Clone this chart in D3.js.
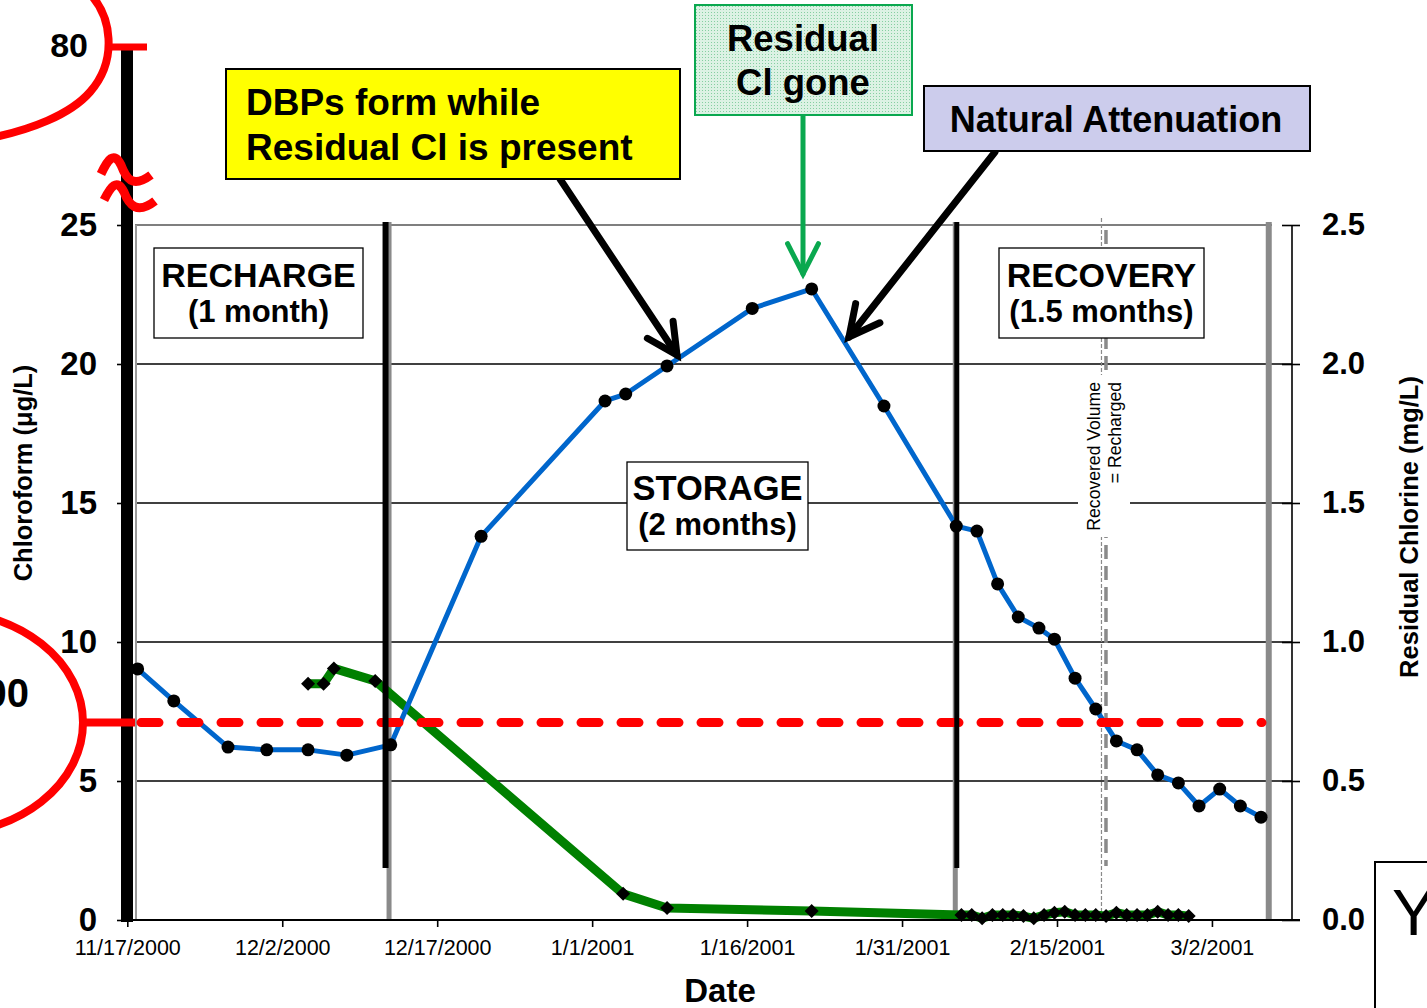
<!DOCTYPE html>
<html><head><meta charset="utf-8">
<script src="https://cdn.jsdelivr.net/npm/d3@7"></script>
<style>
html,body{margin:0;padding:0;background:#fff;overflow:hidden}
svg{display:block;font-family:"Liberation Sans",Arial,Helvetica,sans-serif}
</style></head><body>
<svg id="chart" width="1427" height="1008"></svg>
<script>
// ---------------- data ----------------
const xTickLabels = ["11/17/2000","12/2/2000","12/17/2000","1/1/2001","1/16/2001","1/31/2001","2/15/2001","3/2/2001"];
const leftTicks = [0, 5, 10, 15, 20, 25];
const rightTicks = [0.0, 0.5, 1.0, 1.5, 2.0, 2.5];
const breakLabel = "80";

// Chloroform (µg/L), left axis
const chloroformDates = [
  "2000-11-18 00","2000-11-21 12","2000-11-26 18","2000-11-30 12","2000-12-04 12","2000-12-08 06","2000-12-12 12",
  "2000-12-21 06","2001-01-02 06","2001-01-04 06","2001-01-08 06","2001-01-16 12","2001-01-22 06","2001-01-29 06",
  "2001-02-05 06","2001-02-07 06","2001-02-09 06","2001-02-11 06","2001-02-13 06","2001-02-14 18","2001-02-16 18",
  "2001-02-18 18","2001-02-20 18","2001-02-22 18","2001-02-24 18","2001-02-26 18","2001-02-28 18","2001-03-02 18",
  "2001-03-04 18","2001-03-06 18"];
const chloroformValues = [
  9.03, 7.88, 6.22, 6.12, 6.12, 5.93, 6.30,
  13.80, 18.67, 18.92, 19.93, 22.00, 22.70, 18.49,
  14.17, 13.99, 12.09, 10.90, 10.50, 10.10, 8.70,
  7.59, 6.44, 6.12, 5.22, 4.93, 4.10, 4.71,
  4.10, 3.70];

// Residual chlorine (mg/L), right axis
const chlorineDates = [
  "2000-12-04 12","2000-12-06 00","2000-12-07 00","2000-12-11 00","2001-01-04 00","2001-01-08 06","2001-01-22 06",
  "2001-02-05 18","2001-02-06 18","2001-02-07 18","2001-02-08 18","2001-02-09 18","2001-02-10 18","2001-02-11 18",
  "2001-02-12 18","2001-02-13 18","2001-02-14 18","2001-02-15 18","2001-02-16 18","2001-02-17 18","2001-02-18 18",
  "2001-02-19 18","2001-02-20 18","2001-02-21 18","2001-02-22 18","2001-02-23 18","2001-02-24 18","2001-02-25 18",
  "2001-02-26 18","2001-02-27 18"];
const chlorineValues = [
  0.85, 0.85, 0.905, 0.86, 0.094, 0.043, 0.032,
  0.018, 0.018, 0.006, 0.018, 0.018, 0.018, 0.014,
  0.006, 0.018, 0.026, 0.030, 0.018, 0.018, 0.018,
  0.014, 0.026, 0.018, 0.018, 0.018, 0.030, 0.018,
  0.018, 0.014];

const mclValue = 7.1;                     // red dashed reference line
const phaseDates = ["2000-12-12 00", "2001-02-05 06", "2001-03-07 12"];
const recoveredDate = "2001-02-19 12";
const phaseLabels = [["RECHARGE","(1 month)"],["STORAGE","(2 months)"],["RECOVERY","(1.5 months)"]];
const recoveredLabel = ["Recovered Volume", "= Recharged"];

// ---------------- scales ----------------
const parseT = d3.utcParse("%Y-%m-%d %H");
const parseD = d3.utcParse("%m/%d/%Y");
const x = d3.scaleUtc().domain([parseD("11/17/2000"), parseT("2001-03-09 18")]).range([127.3, 1292]);
const y = d3.scaleLinear().domain([0, 25]).range([920, 225]);
const y2 = d3.scaleLinear().domain([0, 2.5]).range([920, 225]);

const svg = d3.select("#chart");
const defs = svg.append("defs");
const pat = defs.append("pattern").attr("id","mint").attr("width",3).attr("height",3).attr("patternUnits","userSpaceOnUse");
pat.append("rect").attr("width",3).attr("height",3).attr("fill","#dcf2e4");
pat.append("rect").attr("width",1).attr("height",1).attr("fill","#86cfa2");

// ---------------- gridlines ----------------
const grid = svg.append("g");
leftTicks.filter(v => v > 0 && v < 25).forEach(v => {
  grid.append("line").attr("x1",135).attr("x2",1292).attr("y1",y(v)).attr("y2",y(v))
    .attr("stroke","#000").attr("stroke-width",1.6);
});
grid.append("line").attr("x1",135).attr("x2",1272).attr("y1",y(25)).attr("y2",y(25))
  .attr("stroke","#7f7f7f").attr("stroke-width",2);

// grey vertical phase lines
const pX = phaseDates.map(d => x(parseT(d)));
grid.append("line").attr("x1",136).attr("x2",136).attr("y1",225).attr("y2",920).attr("stroke","#9a9a9a").attr("stroke-width",2);
grid.append("line").attr("x1",pX[0]+3.5).attr("x2",pX[0]+3.5).attr("y1",222).attr("y2",920).attr("stroke","#8a8a8a").attr("stroke-width",5);
grid.append("line").attr("x1",pX[1]-1).attr("x2",pX[1]-1).attr("y1",222).attr("y2",920).attr("stroke","#8a8a8a").attr("stroke-width",5);
grid.append("line").attr("x1",pX[2]).attr("x2",pX[2]).attr("y1",222).attr("y2",920).attr("stroke","#8a8a8a").attr("stroke-width",6);

// recovered volume lines
const rX = x(parseT(recoveredDate));
grid.append("line").attr("x1",rX-2).attr("x2",rX-2).attr("y1",218).attr("y2",920)
  .attr("stroke","#8a8a8a").attr("stroke-width",1.2).attr("stroke-dasharray","4 2");
grid.append("line").attr("x1",rX+2.5).attr("x2",rX+2.5).attr("y1",230).attr("y2",866)
  .attr("stroke","#8a8a8a").attr("stroke-width",3.5).attr("stroke-dasharray","14 7");

// recovered label
grid.append("rect").attr("x",1078).attr("y",375).attr("width",52).attr("height",162).attr("fill","#fff");
recoveredLabel.forEach((t,i) => {
  grid.append("text").attr("transform",`translate(${1100+i*21},382) rotate(-90)`)
    .attr("text-anchor","end").attr("font-size",17.6).attr("fill","#000").text(t);
});

// phase boxes
const boxes = [
  {x:154, y:248, w:209, h:90, b1:287, b2:322, s1:34, s2:31},
  {x:627, y:462, w:181, h:88, b1:500, b2:535, s1:34.5, s2:31},
  {x:999, y:248, w:205, h:90, b1:287, b2:322, s1:34, s2:31}
];
boxes.forEach((b,i) => {
  const g = svg.append("g");
  g.append("rect").attr("x",b.x).attr("y",b.y).attr("width",b.w).attr("height",b.h)
    .attr("fill","#fff").attr("stroke","#000").attr("stroke-width",1.3);
  g.append("text").attr("x",b.x+b.w/2).attr("y",b.b1).attr("text-anchor","middle")
    .attr("font-weight","bold").attr("font-size",b.s1).text(phaseLabels[i][0]);
  g.append("text").attr("x",b.x+b.w/2).attr("y",b.b2).attr("text-anchor","middle")
    .attr("font-weight","bold").attr("font-size",b.s2).text(phaseLabels[i][1]);
});

// ---------------- data lines ----------------
const chlorine = chlorineDates.map((d,i) => ({t: parseT(d), v: chlorineValues[i]}));
const chloroform = chloroformDates.map((d,i) => ({t: parseT(d), v: chloroformValues[i]}));

svg.append("path").datum(chlorine)
  .attr("d", d3.line().x(d => x(d.t)).y(d => y2(d.v)))
  .attr("fill","none").attr("stroke","#008000").attr("stroke-width",9).attr("stroke-linejoin","round");
svg.append("path").datum(chloroform)
  .attr("d", d3.line().x(d => x(d.t)).y(d => y(d.v)))
  .attr("fill","none").attr("stroke","#0066cc").attr("stroke-width",5).attr("stroke-linejoin","round");

// red dashed reference line
svg.append("line").attr("x1",141).attr("x2",1262).attr("y1",y(mclValue)).attr("y2",y(mclValue))
  .attr("stroke","#ff0000").attr("stroke-width",9).attr("stroke-linecap","round").attr("stroke-dasharray","18 22");

// black phase lines
svg.append("line").attr("x1",pX[0]).attr("x2",pX[0]).attr("y1",222).attr("y2",868).attr("stroke","#000").attr("stroke-width",6);
svg.append("line").attr("x1",pX[1]+0.5).attr("x2",pX[1]+0.5).attr("y1",222).attr("y2",868).attr("stroke","#000").attr("stroke-width",5);

// markers
svg.append("g").selectAll("path").data(chlorine).join("path")
  .attr("transform", d => `translate(${x(d.t)},${y2(d.v)})`)
  .attr("d","M0,-7L7,0L0,7L-7,0Z").attr("fill","#000");
svg.append("g").selectAll("circle").data(chloroform).join("circle")
  .attr("cx", d => x(d.t)).attr("cy", d => y(d.v)).attr("r",6.5).attr("fill","#000");

// ---------------- axes ----------------
const axL = svg.append("g").attr("transform","translate(128,0)")
  .call(d3.axisLeft(y).tickValues(leftTicks).tickSize(11).tickPadding(20));
axL.select(".domain").remove();
axL.selectAll("line").attr("stroke","#000").attr("stroke-width",1.6);
axL.selectAll("text").attr("font-size",33).attr("font-weight","bold").attr("fill","#000")
  .attr("font-family","Liberation Sans, Arial, sans-serif");

const axR = svg.append("g").attr("transform","translate(1282,0)")
  .call(d3.axisRight(y2).tickValues(rightTicks).tickFormat(d3.format(".1f")).tickSize(18).tickPadding(22));
axR.select(".domain").remove();
axR.selectAll("line").attr("stroke","#000").attr("stroke-width",1.6);
axR.selectAll("text").attr("font-size",31).attr("font-weight","bold").attr("fill","#000")
  .attr("font-family","Liberation Sans, Arial, sans-serif");
svg.append("line").attr("x1",1292).attr("x2",1292).attr("y1",225).attr("y2",920).attr("stroke","#000").attr("stroke-width",1.6);

const axB = svg.append("g").attr("transform","translate(0,920)")
  .call(d3.axisBottom(x).tickValues(xTickLabels.map(parseD)).tickFormat((d,i) => xTickLabels[i]).tickSize(7).tickPadding(13));
axB.select(".domain").remove();
axB.selectAll("line").attr("stroke","#000").attr("stroke-width",1.6);
axB.selectAll("text").attr("font-size",21.5).attr("fill","#000")
  .attr("font-family","Liberation Sans, Arial, sans-serif");
svg.append("line").attr("x1",128).attr("x2",1300).attr("y1",920).attr("y2",920).attr("stroke","#000").attr("stroke-width",2.2);

// axis titles
svg.append("text").attr("x",720).attr("y",1002).attr("text-anchor","middle")
  .attr("font-weight","bold").attr("font-size",33).text("Date");
svg.append("text").attr("transform","translate(32,473) rotate(-90)").attr("text-anchor","middle")
  .attr("font-weight","bold").attr("font-size",25.5).text("Chloroform (μg/L)");
svg.append("text").attr("transform","translate(1418,527) rotate(-90)").attr("text-anchor","middle")
  .attr("font-weight","bold").attr("font-size",25.5).text("Residual Chlorine (mg/L)");

// ---------------- left bar, break, red marks ----------------
svg.append("rect").attr("x",121).attr("y",50).attr("width",12).attr("height",872).attr("fill","#000");
svg.append("text").attr("x",88).attr("y",57).attr("text-anchor","end")
  .attr("font-weight","bold").attr("font-size",34).text(breakLabel);
svg.append("line").attr("x1",110).attr("x2",147).attr("y1",47).attr("y2",47).attr("stroke","#ff0000").attr("stroke-width",7);
svg.append("path").attr("d","M88,-8 C112,15 118,60 90,92 C70,115 30,130 -10,138")
  .attr("fill","none").attr("stroke","#ff0000").attr("stroke-width",8);
// break squiggle
svg.append("path").attr("d","M101,174 C108,159 114,151 121,165 C126,178 132,189 151,175")
  .attr("fill","none").attr("stroke","#ff0000").attr("stroke-width",9);
svg.append("path").attr("d","M104,200 C111,186 117,178 124,192 C129,205 137,215 155,201")
  .attr("fill","none").attr("stroke","#ff0000").attr("stroke-width",9);

// lower red ellipse + connector
svg.append("ellipse").attr("cx",-60).attr("cy",y(mclValue)).attr("rx",143).attr("ry",112)
  .attr("fill","none").attr("stroke","#ff0000").attr("stroke-width",8);
svg.append("line").attr("x1",83).attr("x2",135).attr("y1",y(mclValue)).attr("y2",y(mclValue))
  .attr("stroke","#ff0000").attr("stroke-width",8);
svg.append("text").attr("x",29).attr("y",707).attr("text-anchor","end")
  .attr("font-weight","bold").attr("font-size",40).text("00");

// ---------------- annotations ----------------
function arrow(x1,y1,x2,y2,color,w){
  const g = svg.append("g").attr("stroke",color).attr("stroke-width",w).attr("stroke-linecap","round").attr("fill","none");
  g.append("line").attr("x1",x1).attr("y1",y1).attr("x2",x2).attr("y2",y2);
  const a = Math.atan2(y1-y2, x1-x2), L = 34, s = 27*Math.PI/180;
  g.append("path").attr("d",`M${x2+L*Math.cos(a+s)},${y2+L*Math.sin(a+s)} L${x2},${y2} L${x2+L*Math.cos(a-s)},${y2+L*Math.sin(a-s)}`)
    .attr("stroke-linejoin","miter");
}
arrow(560,179,677,355,"#000",7);
arrow(803,115,803,274,"#0aa84f",5);
arrow(995,152,849,337,"#000",7);

// yellow box
svg.append("rect").attr("x",226).attr("y",69).attr("width",454).attr("height",110)
  .attr("fill","#ffff00").attr("stroke","#000").attr("stroke-width",2);
svg.append("text").attr("x",246).attr("y",115).attr("font-weight","bold").attr("font-size",37).text("DBPs form while");
svg.append("text").attr("x",246).attr("y",160).attr("font-weight","bold").attr("font-size",37).text("Residual Cl is present");

// green box
svg.append("rect").attr("x",695).attr("y",5).attr("width",217).attr("height",110)
  .attr("fill","url(#mint)").attr("stroke","#0aa84f").attr("stroke-width",2);
svg.append("text").attr("x",803).attr("y",51).attr("text-anchor","middle").attr("font-weight","bold").attr("font-size",36.5).text("Residual");
svg.append("text").attr("x",803).attr("y",95).attr("text-anchor","middle").attr("font-weight","bold").attr("font-size",36.5).text("Cl gone");

// lavender box
svg.append("rect").attr("x",924).attr("y",86).attr("width",386).attr("height",65)
  .attr("fill","#ccccec").attr("stroke","#000").attr("stroke-width",2);
svg.append("text").attr("x",1116).attr("y",132).attr("text-anchor","middle").attr("font-weight","bold").attr("font-size",36).text("Natural Attenuation");

// partial box at bottom right
svg.append("rect").attr("x",1375).attr("y",862).attr("width",80).attr("height",200)
  .attr("fill","#fff").attr("stroke","#000").attr("stroke-width",2);
svg.append("text").attr("x",1392).attr("y",935).attr("font-size",65).text("Y");
</script>
</body></html>
